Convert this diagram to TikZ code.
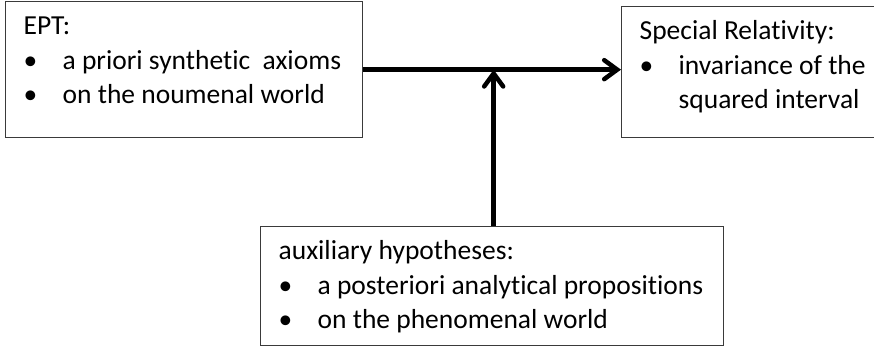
\documentclass[tikz,border=0pt]{standalone}
\usepackage{fontspec}
\setmainfont{Carlito}[Ligatures={NoCommon,NoContextual}]
\usepackage{tikz}
\usetikzlibrary{arrows.meta,positioning,calc}
\definecolor{ink}{HTML}{000000}
\definecolor{frame}{HTML}{3A3A3A}
\newcommand{\bul}{\makebox[39pt][l]{\textbullet}}
\newcommand{\ind}{\makebox[39pt][l]{}}
\tikzset{
  card/.style={draw=frame,fill=white,line width=1.3pt,align=left,
               inner xsep=18pt,inner ysep=0pt,anchor=north west,
               text height=102pt,
               font=\fontsize{27.5}{34.5}\selectfont,text=ink},
  bigarr/.style={-{Straight Barb[length=13pt,width=19pt,line cap=round]},
                 line width=4.5pt,draw=ink}
}
\begin{document}
\begin{tikzpicture}[x=1pt,y=-1pt]
  \useasboundingbox (0,0) rectangle (874,351);
  % the three boxes
  \node[card,text depth=34pt] (ept) at (5,1)
    {\makebox[321pt][l]{EPT:}\\ \bul a priori synthetic\ \ axioms\\ \bul on the noumenal world};
  \node[card,text depth=29pt] (sr) at (621,6)
    {Special Relativity:\\ \bul invariance of the\\ \ind squared interval};
  \node[card,text depth=17pt] (aux) at (260,226)
    {\makebox[427pt][l]{auxiliary hypotheses:}\\ \bul a posteriori analytical propositions\\ \bul on the phenomenal world};
  % arrows
  \coordinate (meet) at ($(aux.north)+(1.5,0)$);
  \draw[bigarr] (ept.east) -- (ept.east -| sr.west);
  \draw[bigarr] (meet) -- (meet |- ept.east);
\end{tikzpicture}
\end{document}
